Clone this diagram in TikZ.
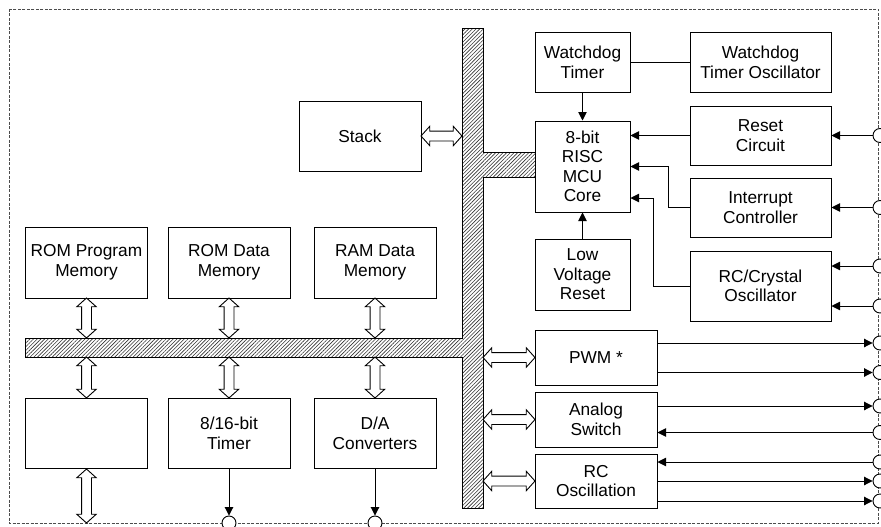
\documentclass[tikz,border=0pt]{standalone}
\usepackage{fontspec}
\setmainfont{Liberation Sans}
\usepackage{tikz}
\usetikzlibrary{
	arrows.meta,
	positioning,
	shapes.arrows,
	patterns.meta,
	calc
}
\tikzset{
  % arrow
	cstra/.style      ={-{Triangle[length=8.5pt,width=8.5pt]}},
	cstsig/.style     ={cstra, line width=0.9pt},
	cstline/.style    ={line width=0.9pt},
	cstdra/.style     ={double arrow, draw, fill=white, line width=0.9pt, inner xsep=0pt, inner ysep=4.5pt, double arrow head extend=4.8pt, double arrow tip angle=96}, % hollow bus arrow
  % node
	cstnode/.style    ={draw, fill=white, line width=1pt, align=center, inner sep=1pt},
	cstpin/.style     ={circle, draw, fill=white, line width=0.9pt, minimum size=14pt, inner sep=0pt},
  % fill
	cstbus/.style     ={draw, line width=1pt, pattern={Lines[angle=45,distance=2.6pt,line width=0.6pt]}, pattern color=black!80},
	cstframe/.style   ={line width=0.8pt, black!70, dash pattern=on 3pt off 1.5pt}
}

\begin{document}
\begin{tikzpicture}[x=1pt, y=-1pt, font=\fontsize{17.3}{19.5}\selectfont]
	\useasboundingbox (0,0) rectangle (881,527);
	\draw[cstframe] (9,9) rectangle (878,523);
	% bus
	\draw[cstbus] (462,29) -- (483,29) -- (483,152) -- (535,152) -- (535,177) -- (483,177) -- (483,508) -- (462,508) -- (462,357) -- (25,357) -- (25,338) -- (462,338) -- cycle;
	% core
	\node[cstnode, minimum width=95, minimum height=59] (wdt) at (582.5,62.5) {Watchdog\\Timer};
	\node[cstnode, minimum width=141, minimum height=59] (wdtosc) at (760.5,62.5) {Watchdog\\Timer Oscillator};
	\node[cstnode, minimum width=95, minimum height=91] (mcu) at (582.5,166.5) {8-bit\\RISC\\MCU\\Core};
	\node[cstnode, minimum width=141, minimum height=59] (rst) at (760.5,135.5) {Reset\\Circuit};
	\node[cstnode, minimum width=141, minimum height=59] (intc) at (760.5,207.5) {Interrupt\\Controller};
	\node[cstnode, minimum width=141, minimum height=70] (osc) at (760.5,286) {RC/Crystal\\Oscillator};
	\node[cstnode, minimum width=95, minimum height=71] (lvr) at (582.5,274.5) {Low\\Voltage\\Reset};
	\node[cstnode, minimum width=122, minimum height=70] (stack) at (360,136) {Stack};
	% peripherals
	\node[cstnode, minimum width=122, minimum height=55] (pwm) at (596,357.5) {PWM *};
	\node[cstnode, minimum width=122, minimum height=55] (asw) at (596,419.5) {Analog\\Switch};
	\node[cstnode, minimum width=122, minimum height=54] (rcosc) at (596,481) {RC\\Oscillation};
	% memory
	\node[cstnode, minimum width=122, minimum height=71] (rompm) at (86.5,262.5) {ROM Program\\Memory};
	\node[cstnode, minimum width=122, minimum height=71] (romdm) at (229,262.5) {ROM Data\\Memory};
	\node[cstnode, minimum width=122, minimum height=71] (ramdm) at (375,262.5) {RAM Data\\Memory};
	\node[cstnode, minimum width=122, minimum height=70] (blank) at (86.5,433.5) {};
	\node[cstnode, minimum width=122, minimum height=70] (tmr) at (229,433.5) {8/16-bit\\Timer};
	\node[cstnode, minimum width=122, minimum height=70] (dac) at (375,433.5) {D/A\\Converters};
	% pins
	\foreach \n/\y in {rst/135.5, int/207.5, osca/266, oscb/306, pwma/343, pwmb/372.5, swa/406, swb/432.5, rca/462, rcb/481, rcc/501}
		\node[cstpin] (pin\n) at (880,\y) {};
	\node[cstpin] (pintmr) at (229,523) {};
	\node[cstpin] (pindac) at (375,523) {};
	% bus arrows
	\node[cstdra, minimum height=41] (dstack) at (441.5,136) {};
	\node[cstdra, minimum height=52] (dpwm) at (509,357.5) {};
	\node[cstdra, minimum height=52] (dasw) at (509,419.5) {};
	\node[cstdra, minimum height=52] (drc) at (509,481) {};
	\foreach \x in {86.5,229,375} {
		\node[cstdra, rotate=90, minimum height=40] at (\x,318) {};
		\node[cstdra, rotate=90, minimum height=41] at (\x,377.5) {};
	}
	\node[cstdra, rotate=90, minimum height=54] (dblank) at (86.5,496) {};
	% signals
	\draw[cstline] (wdt) -- (wdtosc);
	\draw[cstsig] (wdt) -- (mcu);
	\draw[cstsig] (lvr) -- (mcu);
	\draw[cstsig] (rst.west) -- (rst.west -| mcu.east);
	\draw[cstsig] (intc.west) -- ++(-21,0) |- (mcu.east);
	\draw[cstsig] (osc.west) -- ++(-36,0) |- (mcu.east |- 0,198);
	\draw[cstsig] (pinrst) -- (rst.east |- pinrst);
	\draw[cstsig] (pinint) -- (intc.east |- pinint);
	\draw[cstsig] (pinosca) -- (osc.east |- pinosca);
	\draw[cstsig] (pinoscb) -- (osc.east |- pinoscb);
	\draw[cstsig] (pwm.east |- pinpwma) -- (pinpwma);
	\draw[cstsig] (pwm.east |- pinpwmb) -- (pinpwmb);
	\draw[cstsig] (asw.east |- pinswa) -- (pinswa);
	\draw[cstsig] (pinswb) -- (asw.east |- pinswb);
	\draw[cstsig] (pinrca) -- (rcosc.east |- pinrca);
	\draw[cstsig] (rcosc.east |- pinrcb) -- (pinrcb);
	\draw[cstsig] (rcosc.east |- pinrcc) -- (pinrcc);
	\draw[cstsig] (tmr) -- (pintmr);
	\draw[cstsig] (dac) -- (pindac);
\end{tikzpicture}
\end{document}
